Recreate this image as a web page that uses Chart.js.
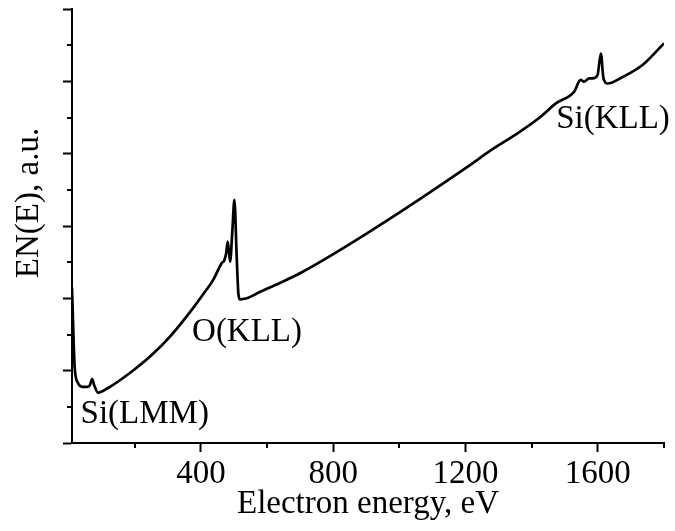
<!DOCTYPE html>
<html>
<head>
<meta charset="utf-8">
<script src="https://cdn.jsdelivr.net/npm/chart.js@4.4.1/dist/chart.umd.min.js"></script>
<style>
  html, body { margin: 0; padding: 0; background: #fff; }
</style>
</head>
<body>
<canvas id="spectrum" width="675" height="531"></canvas>
<script>
// Auger spectrum, EN(E) vs electron energy
const energy = [
  10, 13, 18, 28, 43, 58, 64, 71, 77, 89, 119, 190, 251, 311, 372, 412, 437,
  463, 470, 476, 481, 488, 495, 501, 508, 513, 518, 538, 579, 640, 705, 800, 1003,
  1200, 1286, 1357, 1427, 1473, 1528, 1548, 1558, 1574, 1584, 1599, 1609,
  1617, 1629, 1675, 1735, 1800
];
const intensity = [
  4.30, 3.40, 2.10, 1.66, 1.55, 1.55, 1.60, 1.77, 1.60, 1.39, 1.52, 1.97, 2.43,
  2.99, 3.68, 4.18, 4.51, 4.98, 5.04, 5.24, 5.57, 5.01, 5.89, 6.72, 5.15, 4.14,
  3.97, 4.00, 4.18, 4.43, 4.72, 5.22, 6.39, 7.60, 8.15, 8.56, 9.02, 9.39, 9.71,
  10.04, 9.99, 10.08, 10.08, 10.17, 10.77, 10.08, 9.94, 10.12, 10.45, 11.05
];

const xMajorTicks = [400, 800, 1200, 1600];
const xMinorTicks = [200, 600, 1000, 1400, 1800];
const yMajorTicks = [0, 2, 4, 6, 8, 10, 12];
const yMinorTicks = [1, 3, 5, 7, 9, 11];

// peak names, anchored at (energy, EN(E)) of their left baseline
const peakNames = ['Si(LMM)', 'O(KLL)', 'Si(KLL)'];
const peakEnergy = [36, 373, 1474];
const peakLevel = [0.55, 2.82, 8.71];

const FONT = "'Liberation Serif', 'Times New Roman', serif";

const extras = {
  id: 'extras',
  afterDraw(chart) {
    const { ctx, chartArea, scales: { x, y } } = chart;
    ctx.save();
    ctx.strokeStyle = '#000';
    ctx.lineWidth = 2;

    // minor ticks (shorter than the major ones)
    xMinorTicks.forEach(v => {
      const px = Math.round(x.getPixelForValue(v));
      ctx.beginPath();
      ctx.moveTo(px, x.top);
      ctx.lineTo(px, x.top + 5);
      ctx.stroke();
    });
    yMinorTicks.forEach(v => {
      const py = Math.round(y.getPixelForValue(v));
      ctx.beginPath();
      ctx.moveTo(y.right, py);
      ctx.lineTo(y.right - 5, py);
      ctx.stroke();
    });

    ctx.fillStyle = '#000';
    ctx.font = '33px ' + FONT;

    // peak labels
    ctx.textAlign = 'left';
    ctx.textBaseline = 'alphabetic';
    peakNames.forEach((name, i) => {
      ctx.fillText(name, x.getPixelForValue(peakEnergy[i]), y.getPixelForValue(peakLevel[i]));
    });

    // y axis title, sits a bit above the middle of the axis
    ctx.translate(29, (chartArea.top + chartArea.bottom) / 2 - 23);
    ctx.rotate(-Math.PI / 2);
    ctx.textAlign = 'center';
    ctx.textBaseline = 'middle';
    ctx.fillText('EN(E), a.u.', 0, 0);
    ctx.restore();
  }
};

new Chart(document.getElementById('spectrum'), {
  type: 'line',
  data: {
    datasets: [{
      data: energy.map((e, i) => ({ x: e, y: intensity[i] })),
      borderColor: '#000',
      borderWidth: 2.7,
      pointRadius: 0,
      cubicInterpolationMode: 'monotone',
      fill: false
    }]
  },
  options: {
    responsive: false,
    devicePixelRatio: 1,
    animation: false,
    layout: { padding: { top: 9, right: 11, left: 0, bottom: 0 } },
    plugins: {
      legend: { display: false },
      tooltip: { enabled: false }
    },
    scales: {
      x: {
        type: 'linear',
        min: 10,
        max: 1800,
        afterBuildTicks: s => { s.ticks = xMajorTicks.map(v => ({ value: v })); },
        afterFit: s => { s.height = 88; },
        grid: {
          drawOnChartArea: false,
          tickLength: 9,
          tickWidth: 2,
          tickColor: '#000'
        },
        border: { color: '#000', width: 2 },
        ticks: {
          color: '#000',
          padding: 3,
          maxRotation: 0,
          callback: v => String(v),
          font: { family: FONT, size: 33 }
        },
        title: {
          display: true,
          text: 'Electron energy, eV',
          color: '#000',
          padding: { top: 0, bottom: 7 },
          font: { family: FONT, size: 33 }
        }
      },
      y: {
        type: 'linear',
        min: 0,
        max: 12,
        afterBuildTicks: s => { s.ticks = yMajorTicks.map(v => ({ value: v })); },
        afterFit: s => { s.width = 72; },
        grid: {
          drawOnChartArea: false,
          tickLength: 9,
          tickWidth: 2,
          tickColor: '#000'
        },
        border: { color: '#000', width: 2 },
        ticks: { display: false }
      }
    }
  },
  plugins: [extras]
});
</script>
</body>
</html>
